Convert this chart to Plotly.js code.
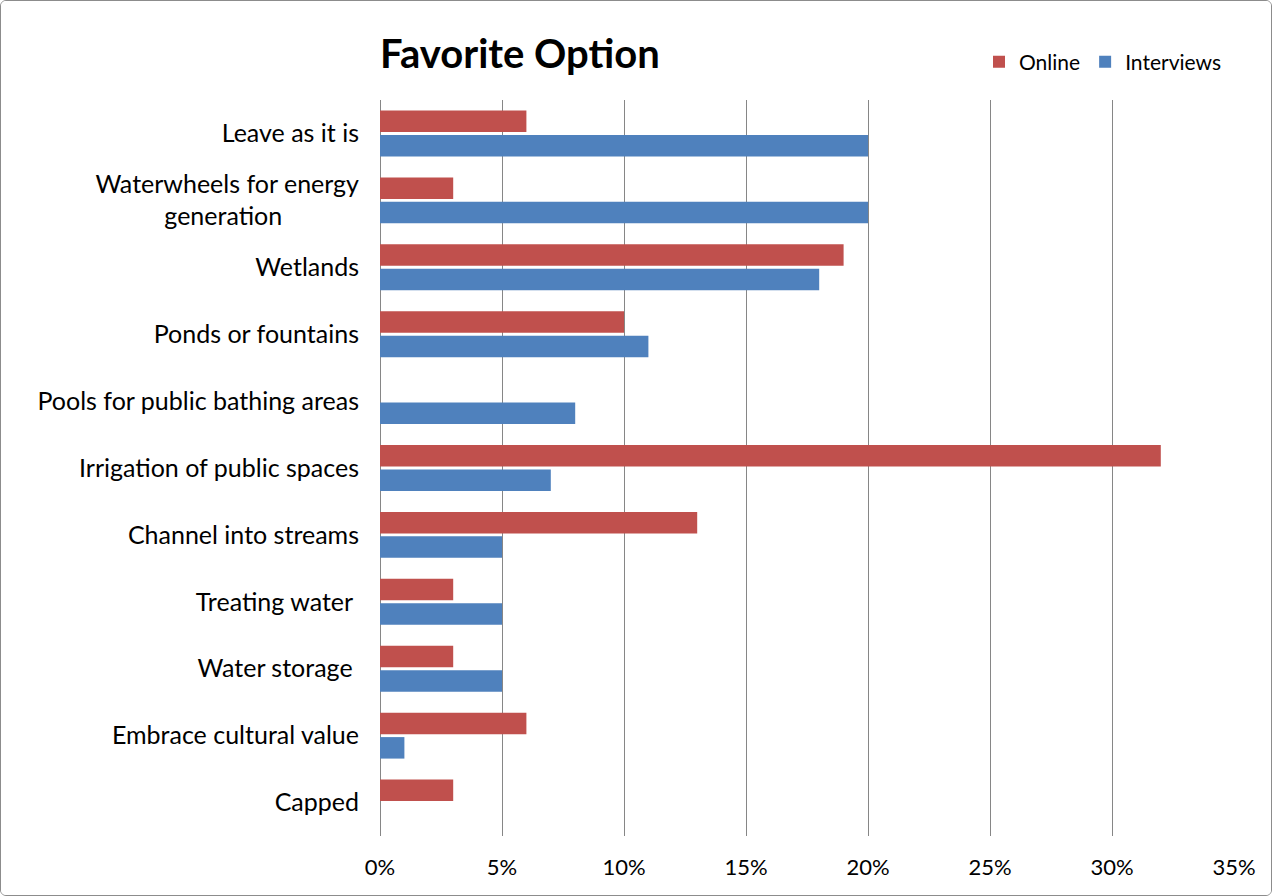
<!DOCTYPE html>
<html>
<head>
<meta charset="utf-8">
<script src="https://cdn.plot.ly/plotly-3.0.1.min.js"></script>
<style>
html, body { margin: 0; padding: 0; background: #fff; }
#chart { width: 1270px; height: 894px; border: 1px solid #8c8c8c; border-radius: 6px; overflow: hidden; }
</style>
</head>
<body>
<div id="chart"></div>
<script>
const NB = "\u00a0";
const categories = [
  "Leave as it is",
  "Waterwheels for energy<br>generation" + NB.repeat(12),
  "Wetlands",
  "Ponds or fountains",
  "Pools for public bathing areas",
  "Irrigation of public spaces",
  "Channel into streams",
  "Treating water" + NB,
  "Water storage" + NB,
  "Embrace cultural value",
  "Capped"
];
const onlineValues = [6, 3, 19, 10, 0, 32, 13, 3, 3, 6, 3];
const interviewValues = [20, 20, 18, 11, 8, 7, 5, 5, 5, 1, 0];
const seriesNames = ["Online", "Interviews"];
const xTickValues = [0, 5, 10, 15, 20, 25, 30, 35];
const xTickLabels = ["0%", "5%", "10%", "15%", "20%", "25%", "30%", "35%"];

const font = "Lato, 'Open Sans', sans-serif";

const traces = [
  {
    type: "bar", orientation: "h", name: seriesNames[0],
    y: categories, x: onlineValues,
    marker: { color: "#C0504D" }, hoverinfo: "skip"
  },
  {
    type: "bar", orientation: "h", name: seriesNames[1],
    y: categories, x: interviewValues,
    marker: { color: "#4F81BD" }, hoverinfo: "skip"
  }
];

const layout = {
  width: 1270, height: 894,
  margin: { l: 379, r: 37, t: 99, b: 59 },
  paper_bgcolor: "#ffffff", plot_bgcolor: "#ffffff",
  font: { family: font, size: 25, color: "#000" },
  barmode: "group", bargap: 0.27, bargroupgap: 0.12,
  title: {
    text: "<b>Favorite Option</b>",
    font: { family: font, size: 40, color: "#000" },
    xref: "paper", x: 0, xanchor: "left",
    yref: "container", y: 1 - 53/894, yanchor: "middle"
  },
  legend: {
    orientation: "h", x: 1 - 8/854, xanchor: "right", y: 1 + 38/736, yanchor: "middle",
    font: { family: font, size: 21, color: "#000" },
    itemwidth: 30, traceorder: "normal"
  },
  xaxis: {
    range: [0, 35], tickvals: xTickValues, ticktext: xTickLabels,
    showgrid: true, gridcolor: "#868686", gridwidth: 1,
    zeroline: false, showline: false, ticks: "",
    ticklabelstandoff: 16, fixedrange: true,
    tickfont: { family: font, size: 22, color: "#000" }
  },
  yaxis: {
    type: "category", autorange: "reversed",
    showgrid: false, zeroline: false, showline: false, ticks: "",
    ticklabelstandoff: 20, fixedrange: true,
    tickfont: { family: font, size: 25, color: "#000" }
  },
  shapes: [{
    type: "line", xref: "x", yref: "paper", x0: 0, x1: 0, y0: 0, y1: 1,
    line: { color: "#868686", width: 2 }, layer: "below"
  }]
};

Plotly.newPlot("chart", traces, layout, { staticPlot: true, displayModeBar: false });
</script>
</body>
</html>
